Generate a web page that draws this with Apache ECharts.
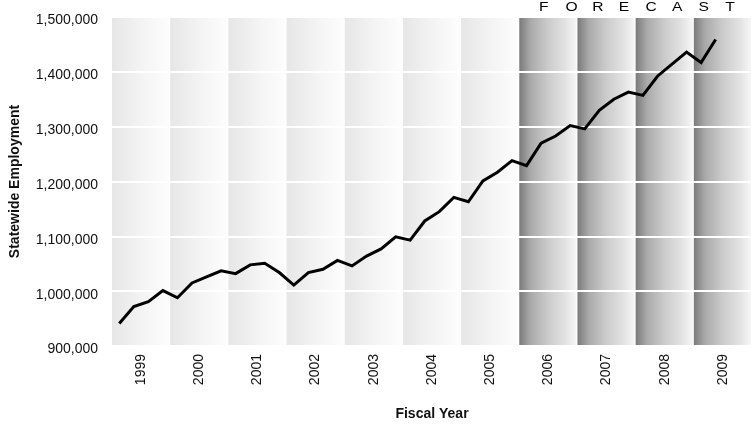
<!DOCTYPE html>
<html>
<head>
<meta charset="utf-8">
<title>Statewide Employment</title>
<script src="https://cdn.jsdelivr.net/npm/echarts@6/dist/echarts.min.js"></script>
<style>
  html, body { margin: 0; padding: 0; background: #ffffff; }
  #chart { width: 752px; height: 427px; }
</style>
</head>
<body>
<div id="chart"></div>
<script>
// Fiscal years shown on the horizontal axis (one band per year)
const years = [1999, 2000, 2001, 2002, 2003, 2004, 2005, 2006, 2007, 2008, 2009];
// First fiscal year of the forecast period
const forecastFrom = 2006;
// Quarterly statewide employment, 1999 Q1 through 2009 Q2
const employment = [
  941000, 972000, 981000, 1001000,
  988000, 1015000, 1026000, 1037000,
  1032000, 1048000, 1051000, 1034000,
  1011000, 1034000, 1040000, 1056000,
  1046000, 1064000, 1077000, 1099000,
  1093000, 1128000, 1145000, 1171000,
  1163000, 1201000, 1217000, 1238000,
  1229000, 1270000, 1283000, 1302000,
  1296000, 1330000, 1350000, 1363000,
  1357000, 1392000, 1414000, 1436000,
  1417000, 1459000
];
// Vertical axis range and tick step
const yMin = 900000, yMax = 1500000, yStep = 100000;

const quartersPerYear = 4;
const xMax = years.length * quartersPerYear;

const chart = echarts.init(document.getElementById('chart'), null, { renderer: 'canvas' });

const lineData = employment.map((v, i) => [i + 0.5, v]);
const bandData = years.map((y, k) => [k * quartersPerYear, y >= forecastFrom ? 1 : 0]);

const pastStops = [
  { offset: 0, color: '#e6e6e6' },
  { offset: 0.5, color: '#f3f3f3' },
  { offset: 1, color: '#fdfdfd' }
];
const forecastStops = [
  { offset: 0, color: '#7a7a7a' },
  { offset: 0.2, color: '#aaaaaa' },
  { offset: 0.5, color: '#cbcbcb' },
  { offset: 0.8, color: '#e2e2e2' },
  { offset: 1, color: '#f6f6f6' }
];

// Letters of the forecast heading, spread out evenly
const headingLetters = 'FORECAST'.split('');

const option = {
  animation: false,
  backgroundColor: '#ffffff',
  textStyle: { fontFamily: '"Liberation Sans", Arial, Helvetica, sans-serif' },
  grid: { left: 110, right: -4, top: 17, bottom: 81 },
  xAxis: {
    type: 'value',
    min: 0,
    max: xMax,
    interval: 2,
    name: 'Fiscal Year',
    nameLocation: 'middle',
    nameGap: 61,
    nameTextStyle: { fontSize: 14, fontWeight: 'bold', color: '#111' },
    axisLine: { show: false },
    axisTick: { show: false },
    splitLine: { show: false },
    axisLabel: {
      rotate: 90,
      margin: 8,
      fontSize: 14,
      color: '#111',
      formatter: v => (v % quartersPerYear === 2) ? String(years[(v - 2) / quartersPerYear]) : ''
    }
  },
  yAxis: {
    type: 'value',
    min: yMin,
    max: yMax,
    interval: yStep,
    z: 2,
    name: 'Statewide Employment',
    nameLocation: 'middle',
    nameRotate: 90,
    nameGap: 90,
    nameTextStyle: { fontSize: 14, fontWeight: 'bold', color: '#111' },
    axisLine: { show: false },
    axisTick: { show: false },
    splitLine: { show: true, lineStyle: { color: '#ffffff', width: 2 } },
    axisLabel: {
      margin: 14,
      fontSize: 14,
      color: '#111',
      formatter: v => '{n|' + v.toLocaleString('en-US') + '}',
      rich: {
        n: { fontSize: 14, color: '#111', padding: [7, 0, 0, 0] }
      }
    }
  },
  graphic: headingLetters.map((ch, i) => ({
    type: 'text',
    left: 539 + i * 26.6,
    top: 2,
    scaleX: 1.3,
    style: {
      text: ch,
      fill: '#000',
      font: '12px "Liberation Sans", Arial, sans-serif'
    }
  })),
  series: [
    {
      type: 'custom',
      z: 1,
      silent: true,
      data: bandData,
      encode: { x: 0 },
      renderItem: (params, api) => {
        const start = api.value(0);
        const forecast = api.value(1) === 1;
        const p0 = api.coord([start, yMax]);
        const p1 = api.coord([start + quartersPerYear, yMin]);
        return {
          type: 'rect',
          shape: { x: p0[0], y: p0[1], width: p1[0] - p0[0] - 1, height: p1[1] - p0[1] },
          style: {
            fill: new echarts.graphic.LinearGradient(0, 0, 1, 0, forecast ? forecastStops : pastStops)
          }
        };
      }
    },
    {
      type: 'line',
      z: 3,
      data: lineData,
      showSymbol: false,
      symbol: 'none',
      lineStyle: { color: '#000000', width: 3, join: 'miter' }
    }
  ]
};

chart.setOption(option);
</script>
</body>
</html>
